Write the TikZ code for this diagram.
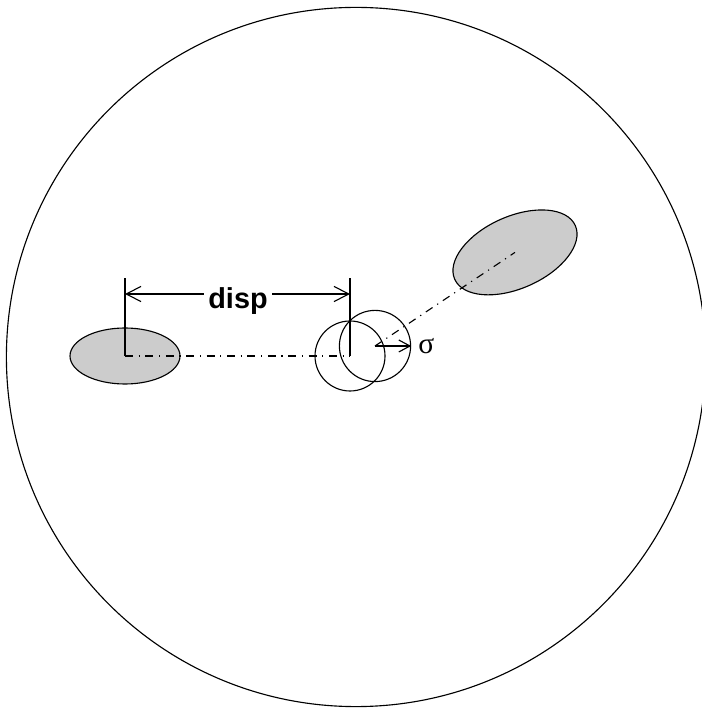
\documentclass[tikz,border=0pt]{standalone}
\usepackage{fontspec}
\setmainfont{Liberation Sans}
\newfontfamily\greekfont{Liberation Serif}
\usetikzlibrary{arrows.meta,positioning,shapes.geometric}
\definecolor{blobgray}{RGB}{204,204,204}

\begin{document}
\begin{tikzpicture}[
    line width=0.8pt,
    blob/.style={draw, ellipse, fill=blobgray, inner sep=0pt},
    ring/.style={draw, circle, inner sep=0pt},
    axisline/.style={dash pattern=on 0.2cm off 0.14cm on 0.03cm off 0.14cm},
    dimarr/.style={-{Straight Barb[length=0.37cm,width=0.38cm]}},
    radarr/.style={-{Straight Barb[length=0.28cm,width=0.3cm]}}
]
\useasboundingbox (0,0) rectangle (17.55,17.75);
\node[ring, minimum size=17.48cm] (field) at (8.9,8.825) {};

% blobs and beam spots
\node[blob, minimum width=2.75cm, minimum height=1.4cm] (src) at (3.125,8.85) {};
\node[blob, minimum width=3.3cm, minimum height=1.8cm, rotate=24] (dst) at (12.875,11.44) {};
\node[ring, minimum size=1.75cm] (pos) at (8.75,8.85) {};
\node[ring, minimum size=1.78cm] (spot) at (9.375,9.1) {};

% dash-dot axes
\draw[axisline] (src.center) -- (pos.center);
\draw[axisline] (spot.center) -- (dst.center);

% displacement
\coordinate (dimL) at (3.125,10.8);
\coordinate (dimR) at (8.75,10.8);
\coordinate (arrL) at (3.125,10.4);
\coordinate (arrR) at (8.75,10.4);
\draw (src.center) -- (dimL);
\draw (pos.center) -- (dimR);
\node[font=\bfseries\fontsize{20.5}{24}\selectfont, inner sep=0.1cm, anchor=base] (disp) at (5.95,10.025) {disp};
\draw[dimarr] (disp.west |- arrL) -- (arrL);
\draw[dimarr] (disp.east |- arrR) -- (arrR);

% spread
\draw[radarr] (spot.center) -- (spot.east);
\node[font=\greekfont\fontsize{21}{24}\selectfont, right=0.05cm of spot.east] (sigma) {σ};
\end{tikzpicture}
\end{document}
